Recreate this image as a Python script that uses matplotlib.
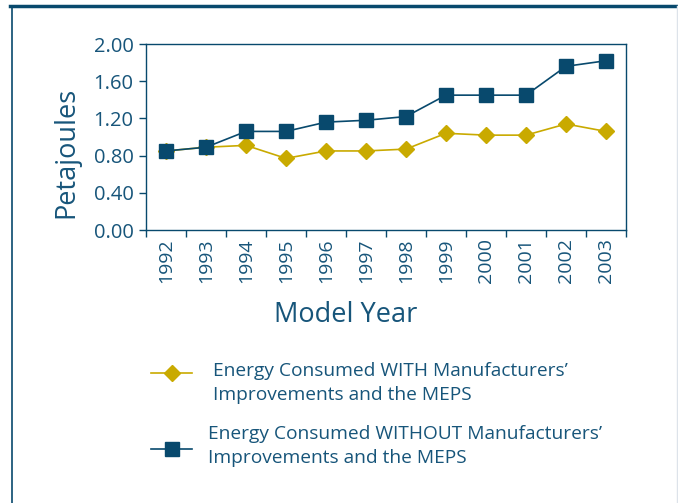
import matplotlib.pyplot as plt
from matplotlib.lines import Line2D

# data (petajoules)
years = ["1992", "1993", "1994", "1995", "1996", "1997",
         "1998", "1999", "2000", "2001", "2002", "2003"]
with_meps = [0.85, 0.89, 0.91, 0.77, 0.85, 0.85, 0.87, 1.04, 1.02, 1.02, 1.14, 1.06]
without_meps = [0.85, 0.89, 1.06, 1.06, 1.16, 1.18, 1.22, 1.45, 1.45, 1.45, 1.76, 1.82]
y_ticks = [0.0, 0.4, 0.8, 1.2, 1.6, 2.0]

label_with = "Energy Consumed WITH Manufacturers\u2019\nImprovements and the MEPS"
label_without = "Energy Consumed WITHOUT Manufacturers\u2019\nImprovements and the MEPS"

NAVY = "#08496d"
GOLD = "#c9aa00"
TXT = "#17557a"

plt.rcParams['font.family'] = ['Open Sans', 'DejaVu Sans']

W, H = 678, 503
fig = plt.figure(figsize=(W / 100, H / 100), dpi=100)
ax = fig.add_axes([146 / W, 1 - 230 / H, 480 / W, 186 / H])

x = range(len(years))
ax.plot(x, with_meps, color=GOLD, marker="D", markersize=8.5, linewidth=1.2)
ax.plot(x, without_meps, color=NAVY, marker="s", markersize=10.5, linewidth=1.2)

ax.set_xlim(-0.5, len(years) - 0.5)
ax.set_ylim(0, 2.0)
ax.set_yticks(y_ticks)
ax.set_yticklabels([f"{v:.2f}" for v in y_ticks], fontsize=14.5, color=TXT)
ax.set_xticks([i - 0.5 for i in range(len(years) + 1)])
ax.set_xticklabels([])
ax.set_xticks(list(x), minor=True)
ax.set_xticklabels(years, minor=True, rotation=90, fontsize=14, color=TXT)
ax.tick_params(axis="x", which="minor", length=0, pad=6)
ax.tick_params(axis="both", which="major", direction="out", length=5, color=NAVY, width=1)
ax.tick_params(axis="y", pad=4)
for s in ax.spines.values():
    s.set_color(NAVY)
    s.set_linewidth(1)

ax.set_ylabel("Petajoules", fontsize=19.5, color=TXT)
ax.yaxis.set_label_coords(-0.1375, 0.419)
ax.set_xlabel("Model Year", fontsize=19.5, color=TXT)
ax.xaxis.set_label_coords(0.417, -0.38)

# legend drawn by hand below the chart
def fy(p):
    return 1 - p / H

fig.add_artist(Line2D([151 / W, 192 / W], [fy(373), fy(373)], color=GOLD, lw=1.2,
                      transform=fig.transFigure))
fig.add_artist(Line2D([171.5 / W], [fy(373)], color=GOLD, marker="D", markersize=8,
                      linestyle="none", transform=fig.transFigure))
fig.add_artist(Line2D([151 / W, 192 / W], [fy(449), fy(449)], color=NAVY, lw=1.2,
                      transform=fig.transFigure))
fig.add_artist(Line2D([171.5 / W], [fy(449)], color=NAVY, marker="s", markersize=10.5,
                      linestyle="none", transform=fig.transFigure))
fig.text(213 / W, fy(383), label_with, fontsize=13.8, color=TXT, va="center",
         linespacing=1.4)
fig.text(208 / W, fy(446), label_without, fontsize=13.8, color=TXT, va="center",
         linespacing=1.4)

# page frame
fig.add_artist(Line2D([10 / W, 1], [fy(5.5), fy(5.5)], color=NAVY, lw=2.5,
                      transform=fig.transFigure))
fig.add_artist(Line2D([12 / W, 12 / W], [fy(6), 0], color=NAVY, lw=1.2,
                      transform=fig.transFigure))
fig.add_artist(Line2D([676.5 / W, 676.5 / W], [fy(6), 0], color="#dde3ea", lw=1,
                      transform=fig.transFigure))

fig.savefig("out.png", dpi=100)
